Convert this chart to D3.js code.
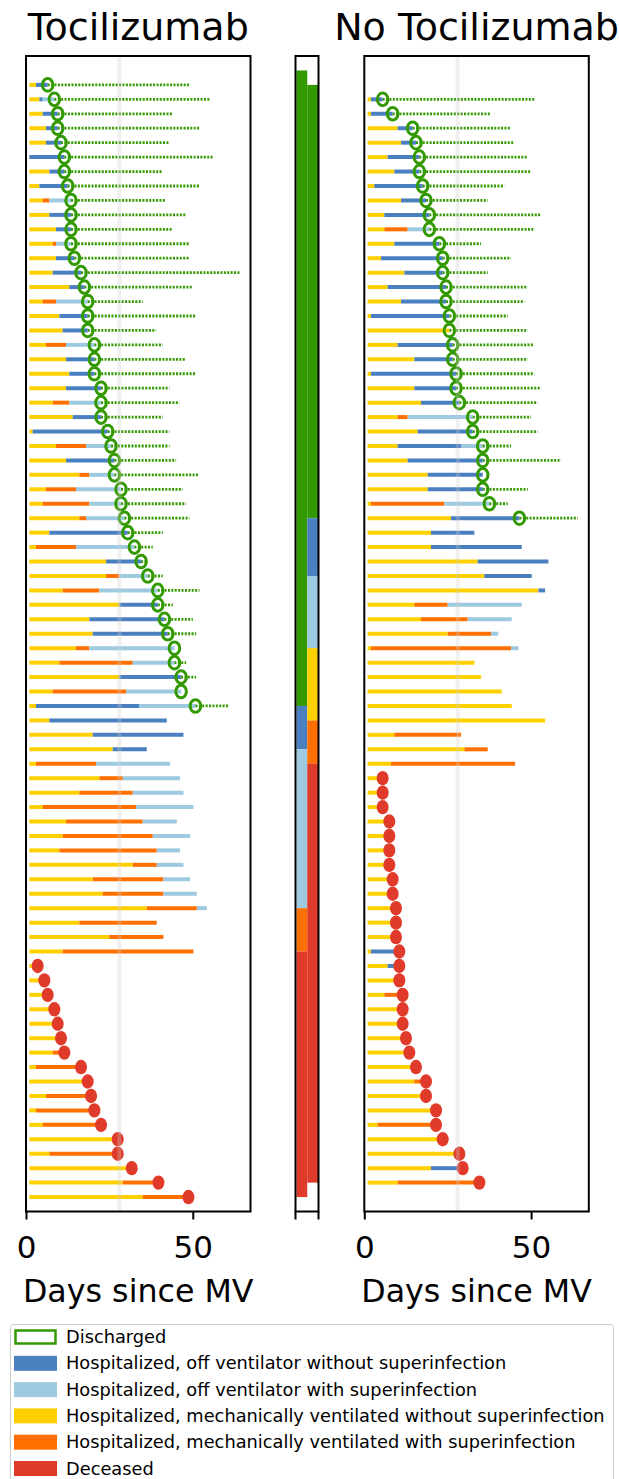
<!DOCTYPE html>
<html>
<head>
<meta charset="utf-8">
<script src="https://cdn.jsdelivr.net/npm/d3@7"></script>
<style>
  body { margin: 0; background: #fff; }
  text { font-family: "DejaVu Sans", sans-serif; }
</style>
</head>
<body>
<script>
// each row: segments "state+endDay" (start at day 1), outcome (D discharged, X deceased, - still in), end of follow-up
var tociRows = [
  ["y3 b6.5","D",49], ["y4 b5 l8.5","D",55], ["y5 b9.5","D",44], ["y6 b9.5","D",52],
  ["y6 b10.5","D",43], ["b11.5","D",56], ["y7 b11.5","D",41], ["y4 b12.5","D",52],
  ["y5 o7 l13.5","D",42], ["y7 b13.5","D",48], ["y9 b13.5","D",44], ["y8 o9 l13.5","D",49],
  ["y9 b14.5","D",49], ["y8 b16.5","D",64], ["y13 b17.5","D",50], ["y5 o9 l18.5","D",35],
  ["y10 b18.5","D",51], ["y11 b18.5","D",39], ["y6 o12 l20.5","D",41], ["y12 b20.5","D",48],
  ["y13 b20.5","D",51], ["y12 b22.5","D",43], ["y8 o13 l22.5","D",46], ["y14 b22.5","D",41],
  ["y2 b24.5","D",43], ["y9 o18 l25.5","D",43], ["y12 b26.5","D",45], ["y16 o19 l26.5","D",52],
  ["y6 o15 l28.5","D",47], ["y5 o19 l28.5","D",48], ["y16 o18 l29.5","D",49], ["y7 b30.5","D",41],
  ["y3 o15 l32.5","D",38], ["y24 b34.5","D",36], ["y24 o28 l36.5","D",41], ["y11 o22 l39.5","D",52],
  ["y28 b39.5","D",44], ["y19 b41.5","D",50], ["y20 b42.5","D",51], ["y15 o19 l44.5","D",44.5],
  ["y10 o32 l44.5","D",48], ["y28 b46.5","D",51], ["y8 o30 l46.5","D",46.5], ["y3 b34 l50.8","D",61],
  ["y7 b42.2","-",0], ["y20 b47.2","-",0], ["y26 b36.2","-",0], ["y3 o21 l43.2","-",0],
  ["y22 o29 l46.2","-",0], ["y16 o32 l47.2","-",0], ["y5 o33 l50.2","-",0], ["y12 o35 l45.2","-",0],
  ["y11 o38 l49.2","-",0], ["y10 o39.2 l46.2","-",0], ["y32 o39.2 l47.2","-",0], ["y20 o41.2 l49.2","-",0],
  ["y23 o41.2 l51.2","-",0], ["y36.2 o51.2 l54.2","-",0], ["y16 o39.2","-",0], ["y25 o41.2","-",0],
  ["y11 o50.2","-",0],
  ["y3.5","X",0], ["y5.5","X",0], ["y6.5","X",0], ["y8.5","X",0], ["y9.5","X",0], ["y10.5","X",0],
  ["y8 o11.5","X",0], ["y3 o16.5","X",0], ["y18.5","X",0], ["y6 o19.5","X",0], ["y3 o20.5","X",0],
  ["y5 o22.5","X",0], ["y27.5","X",0], ["y7 o27.5","X",0], ["y31.7","X",0], ["y29 o39.7","X",0],
  ["y35 o48.7","X",0]
]

var noTociRows = [
  ["y2 b5.5","D",51], ["y2 b8.5","D",38], ["y10 b14.5","D",44], ["y11 b15.5","D",45],
  ["y7 b16.5","D",49], ["y9 b16.5","D",50], ["y3 b17.5","D",42], ["y11 b18.5","D",37],
  ["y6 b19.5","D",53], ["y6 o13 l19.5","D",51], ["y9 b22.5","D",35], ["y5 b23.5","D",44],
  ["y12 b23.5","D",37], ["y7 b24.5","D",49], ["y11 b24.5","D",48], ["y2 b25.5","D",43],
  ["y25.5","D",49], ["y10 b26.5","D",51], ["y15 b26.5","D",49], ["y2 b27.5","D",51],
  ["y15 b27.5","D",53], ["y17 b28.5","D",52], ["y10 o13 l32.5","D",50], ["y16 b32.5","D",52],
  ["y10 b29 l35.5","D",44], ["y13 b35.5","D",59], ["y19 b35.5","D",35.5], ["y19 b35.5","D",49],
  ["y2 o24 l37.5","D",43], ["y26 b46.5","D",64],
  ["y20 b33","-",0], ["y20 b47.2","-",0], ["y34 b55.2","-",0], ["y36 b50.2","-",0],
  ["y52.2 b54.2","-",0], ["y15 o25 l47.2","-",0], ["y17 o31 l44.2","-",0], ["y25 o38 l40.2","-",0],
  ["y2 o44 l46.2","-",0], ["y33","-",0], ["y35","-",0], ["y41.2","-",0], ["y44.2","-",0],
  ["y54.2","-",0], ["y9 o29","-",0], ["y30 o37","-",0], ["y8 o45.2","-",0],
  ["y5.5","X",0], ["y5.5","X",0], ["y5.5","X",0], ["y7.5","X",0], ["y7.5","X",0], ["y7.5","X",0],
  ["y7.5","X",0], ["y8.5","X",0], ["y8.5","X",0], ["y9.5","X",0], ["y9.5","X",0], ["y9.5","X",0],
  ["y2 b10.5","X",0], ["y7 b10.5","X",0], ["y10.5","X",0], ["y6 o11.5","X",0], ["y11.5","X",0],
  ["y11.5","X",0], ["y12.5","X",0], ["y13.5","X",0], ["y15.5","X",0], ["y15 o18.5","X",0],
  ["y18.5","X",0], ["y21.5","X",0], ["y4 o21.5","X",0], ["y23.5","X",0], ["y28.5","X",0],
  ["y20 b29.5","X",0], ["y10 o34.5","X",0]
]

// final status counts for the middle bar: discharged, off vent, off vent + SI, MV, MV + SI, deceased
var statusKeys = ["D","b","l","y","o","X"]
var tociCounts = [44, 3, 11, 0, 3, 17]
var noTociCounts = [30, 4, 5, 5, 3, 29]

var panelTitles = ["Tocilizumab", "No Tocilizumab"]
var xTicks = [0, 50]
var legendLabels = [
  "Discharged",
  "Hospitalized, off ventilator without superinfection",
  "Hospitalized, off ventilator with superinfection",
  "Hospitalized, mechanically ventilated without superinfection",
  "Hospitalized, mechanically ventilated with superinfection",
  "Deceased"
]

var color = {D:"#339900", b:"#4a7fc0", l:"#9ecae1", y:"#ffd000", o:"#ff7000", X:"#e03a2a"}

var svg = d3.select("body").append("svg").attr("width", 619).attr("height", 1479)

var y = d3.scaleLinear().domain([-2, 78]).range([56, 1211.5])

function parseSegs(s){
  var start = 1
  return s.split(" ").map(function(p){
    var seg = {k: p[0], a: start, b: +p.slice(1)}
    start = seg.b
    return seg
  })
}

function drawPanel(rows, x, offset, title){
  var g = svg.append("g")
  rows.forEach(function(r, i){
    var yy = y(i + offset)
    var segs = parseSegs(r[0])
    var ev = segs[segs.length-1].b
    segs.forEach(function(s){
      g.append("line")
        .attr("x1", x(s.a)).attr("x2", x(s.b))
        .attr("y1", yy).attr("y2", yy)
        .attr("stroke", color[s.k]).attr("stroke-width", 4)
    })
    if (r[1]=="D" && r[2]>ev){
      g.append("line")
        .attr("x1", x(ev)).attr("x2", x(r[2]))
        .attr("y1", yy).attr("y2", yy)
        .attr("stroke", color.D).attr("stroke-width", 2.8)
        .attr("stroke-dasharray", "2,1.4")
    }
  })
  rows.forEach(function(r, i){
    var yy = y(i + offset)
    var segs = parseSegs(r[0])
    var ev = segs[segs.length-1].b
    if (r[1]=="D"){
      g.append("ellipse").attr("cx", x(ev)).attr("cy", yy).attr("rx", 5.3).attr("ry", 6.3)
        .attr("fill", "none").attr("stroke", color.D).attr("stroke-width", 3)
    } else if (r[1]=="X"){
      g.append("ellipse").attr("cx", x(ev)).attr("cy", yy).attr("rx", 6).attr("ry", 7.2)
        .attr("fill", color.X)
    }
  })

  // day 28 reference
  g.append("line").attr("x1", x(28)).attr("x2", x(28)).attr("y1", 57).attr("y2", 1211)
    .attr("stroke", "#cccccc").attr("stroke-opacity", 0.3).attr("stroke-width", 4)

  g.append("rect").attr("x", x(0)).attr("y", 56)
    .attr("width", x.range()[1]-x(0)).attr("height", 1211.5-56)
    .attr("fill", "none").attr("stroke", "#000").attr("stroke-width", 2)

  var ax = svg.append("g").attr("transform", "translate(0,1211.5)")
    .call(d3.axisBottom(x).tickValues(xTicks).tickSize(8).tickPadding(16))
  ax.select(".domain").remove()
  ax.selectAll(".tick line").attr("stroke-width", 2)
  ax.selectAll("text").attr("font-size", 31).attr("fill", "#000")
    .attr("font-family", "DejaVu Sans")

  var cx = (x(0)+x.range()[1])/2
  svg.append("text").attr("x", cx).attr("y", 1302).attr("text-anchor", "middle")
    .attr("font-size", 31.7).text("Days since MV")
  svg.append("text").attr("x", cx).attr("y", 40).attr("text-anchor", "middle")
    .attr("font-size", 38).text(title)
}

var xL = d3.scaleLinear().domain([0, 67.3]).range([26, 250.5])
var xR = d3.scaleLinear().domain([0, 67.3]).range([364.3, 588.8])

drawPanel(tociRows, xL, 0, panelTitles[0])
drawPanel(noTociRows, xR, 1, panelTitles[1])

// middle stacked status bar
var xm = d3.scaleBand().domain([0,1]).range([296.5, 318]).paddingInner(0).paddingOuter(0)
;[tociCounts, noTociCounts].forEach(function(counts, c){
  var start = c - 1
  counts.forEach(function(n, k){
    if (n==0) return
    svg.append("rect").attr("x", xm(c)).attr("width", xm.bandwidth())
      .attr("y", y(start)).attr("height", y(start+n)-y(start))
      .attr("fill", color[statusKeys[k]])
    start += n
  })
})
svg.append("rect").attr("x", 295.5).attr("y", 56).attr("width", 23).attr("height", 1211.5-56)
  .attr("fill", "none").attr("stroke", "#000").attr("stroke-width", 2)
;[295.5, 318.5].forEach(function(px){
  svg.append("line").attr("x1", px).attr("x2", px).attr("y1", 1211.5).attr("y2", 1219.5)
    .attr("stroke", "#000").attr("stroke-width", 2)
})

// legend
var lg = svg.append("g")
lg.append("rect").attr("x", 10.5).attr("y", 1324.5).attr("width", 603).attr("height", 170)
  .attr("rx", 3).attr("fill", "#fff").attr("stroke", "#cccccc").attr("stroke-width", 1)
legendLabels.forEach(function(t, i){
  var ly = 1337 + i*26.3
  var k = statusKeys[i]
  if (k=="D"){
    lg.append("rect").attr("x", 15.5).attr("y", ly-6.5).attr("width", 40).attr("height", 13)
      .attr("fill", "none").attr("stroke", color.D).attr("stroke-width", 2.5)
  } else {
    lg.append("rect").attr("x", 14).attr("y", ly-7.5).attr("width", 43).attr("height", 15)
      .attr("fill", color[k])
  }
  lg.append("text").attr("x", 66).attr("y", ly+6).attr("font-size", 17.8).text(t)
})
</script>
</body>
</html>
